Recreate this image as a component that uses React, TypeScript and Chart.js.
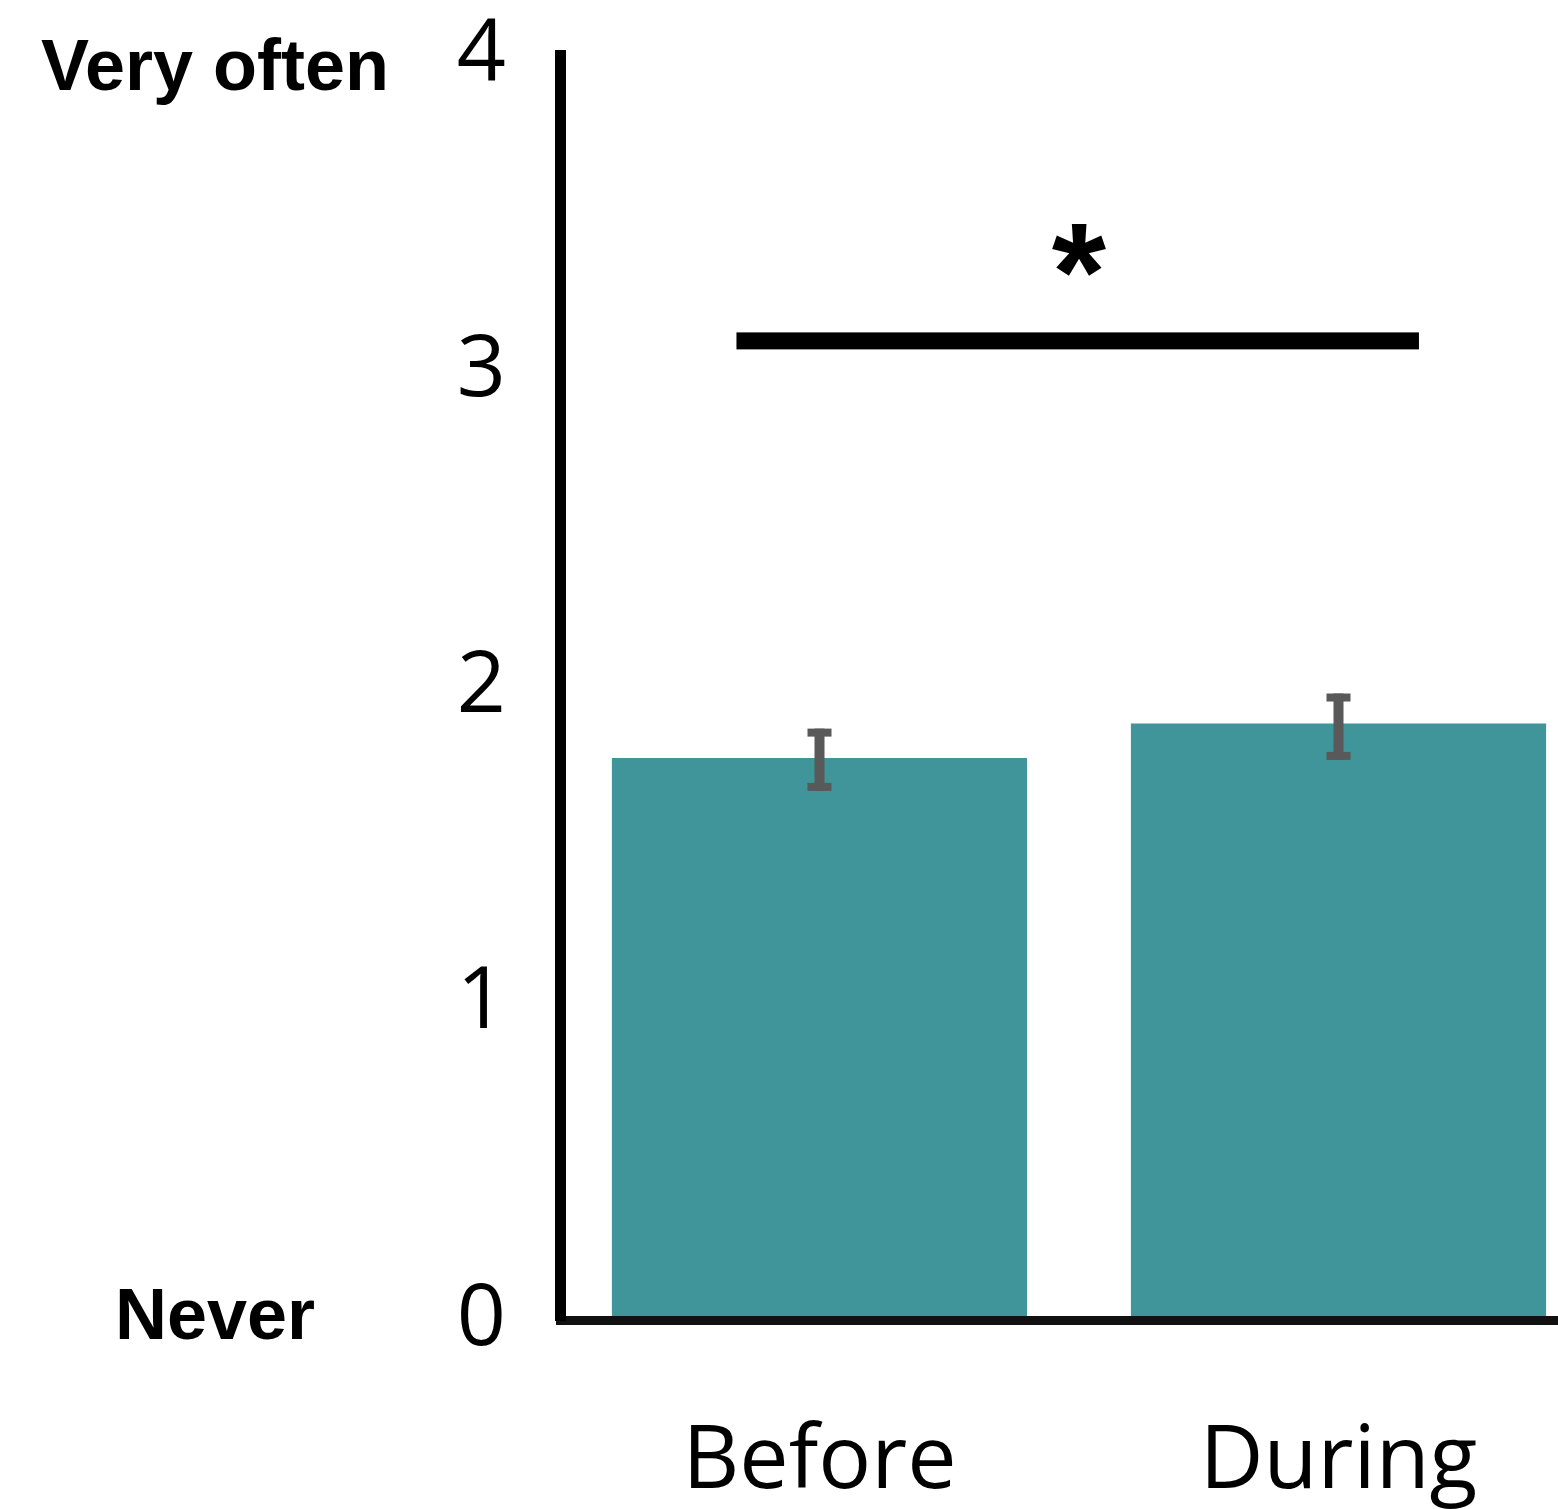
import React, { useEffect, useRef } from "react";
import { Chart, registerables } from "chart.js";

Chart.register(...registerables);

const categories = ["Before", "During"];
const meanValues = [1.777, 1.886];
const errLow = [1.673, 1.771];
const errHigh = [1.87, 1.981];
const yTicks = [0, 1, 2, 3, 4];
const yEndLabels = ["Never", "Very often"];
const yEndValues = [0, 4];
const sigFrom = -0.16;
const sigTo = 1.155;
const sigY = 3.096;
const sigMark = "*";
const sigMarkX = 0.5;
const sigMarkY = 3.382;

const overlayPlugin = {
  id: "overlay",
  afterDatasetsDraw(chart: any) {
    const ctx = chart.ctx;
    const xs = chart.scales.x;
    const ys = chart.scales.y;
    const step = xs.getPixelForValue(1) - xs.getPixelForValue(0);
    const x0 = xs.getPixelForValue(0);
    ctx.save();
    // error bars
    ctx.fillStyle = "#595959";
    for (let i = 0; i < categories.length; i++) {
      const x = xs.getPixelForValue(i);
      const yt = ys.getPixelForValue(errHigh[i]);
      const yb = ys.getPixelForValue(errLow[i]);
      ctx.fillRect(x - 5, yt, 10, yb - yt);
      ctx.fillRect(x - 12, yt, 24, 8);
      ctx.fillRect(x - 12, yb - 8, 24, 8);
    }
    // significance line
    const x1 = x0 + sigFrom * step;
    const x2 = x0 + sigTo * step;
    const yl = ys.getPixelForValue(sigY);
    ctx.fillStyle = "#000";
    ctx.fillRect(x1, yl - 8.5, x2 - x1, 17);
    // asterisk
    const ax = x0 + sigMarkX * step;
    const ay = ys.getPixelForValue(sigMarkY);
    ctx.font = "bold 100px 'Liberation Sans', Arial, sans-serif";
    const m = ctx.measureText(sigMark);
    const h100 = m.actualBoundingBoxAscent + m.actualBoundingBoxDescent;
    const size = (100 * 53) / h100;
    ctx.font = `bold ${size}px 'Liberation Sans', Arial, sans-serif`;
    const m2 = ctx.measureText(sigMark);
    const base = ay - (m2.actualBoundingBoxDescent - m2.actualBoundingBoxAscent) / 2;
    ctx.textAlign = "center";
    ctx.textBaseline = "alphabetic";
    ctx.fillText(sigMark, ax, base);
    // end labels
    ctx.font = "bold 72px 'Liberation Sans', Arial, sans-serif";
    ctx.textAlign = "center";
    ctx.textBaseline = "alphabetic";
    for (let i = 0; i < yEndLabels.length; i++) {
      const y = ys.getPixelForValue(yEndValues[i]);
      const dy = yEndValues[i] === 0 ? 19 : 35;
      ctx.fillText(yEndLabels[i], 215, y + dy);
    }
    ctx.restore();
  },
};

export default function App() {
  const ref = useRef<HTMLCanvasElement>(null);
  useEffect(() => {
    if (!ref.current) return;
    const chart = new Chart(ref.current, {
      type: "bar",
      data: {
        labels: categories,
        datasets: [
          {
            data: meanValues,
            backgroundColor: "#3f9599",
            borderWidth: 0,
            barPercentage: 1,
            categoryPercentage: 0.8,
          },
        ],
      },
      options: {
        responsive: false,
        animation: false,
        events: [],
        layout: { padding: { top: 55, right: 0, left: 0, bottom: 0 } },
        plugins: { legend: { display: false }, tooltip: { enabled: false } },
        scales: {
          x: {
            grid: { display: false, drawTicks: false },
            border: { display: true, color: "#111", width: 9, z: 1 },
            ticks: {
              color: "#000",
              font: { family: "'Open Sans', sans-serif", size: 88 },
              padding: 90,
              maxRotation: 0,
              autoSkip: false,
            },
            afterFit: (s: any) => {
              s.height = 189;
              s.paddingLeft = 0;
              s.paddingRight = 0;
            },
          },
          y: {
            min: 0,
            max: 4,
            grid: { display: false, drawTicks: false },
            border: { display: true, color: "#000", width: 11, z: 1 },
            afterBuildTicks: (s: any) => {
              s.ticks = yTicks.map((v) => ({ value: v }));
            },
            ticks: {
              color: "#000",
              font: { family: "'Open Sans', sans-serif", size: 86 },
              padding: 54,
            },
            afterFit: (s: any) => {
              s.width = 560;
              s.paddingTop = 0;
              s.paddingBottom = 0;
            },
          },
        },
      },
      plugins: [overlayPlugin],
    });
    return () => chart.destroy();
  }, []);
  return (
    <div
      style={{
        position: "absolute",
        left: 0,
        top: 0,
        width: 1558,
        height: 1509,
        overflow: "hidden",
        background: "#fff",
      }}
    >
      <canvas ref={ref} width={1598} height={1509} style={{ display: "block" }} />
    </div>
  );
}
